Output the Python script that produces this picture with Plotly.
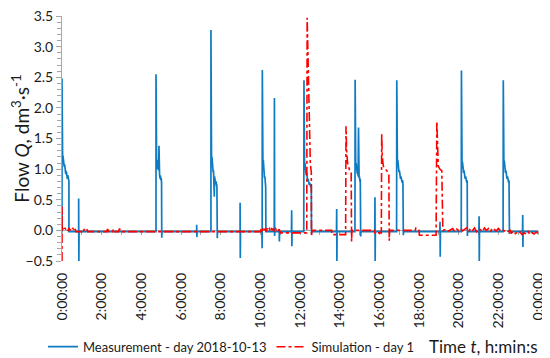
import plotly.graph_objects as go

# ---------------- data (time in hours, flow in dm3/s) ----------------
meas_t = [
    0.00, 0.00, 0.01, 0.03, 0.05, 0.07, 0.09, 0.11, 0.13, 0.15, 0.17, 0.19, 0.21, 0.23, 0.25, 0.27, 0.29, 0.31, 0.33, 0.35, 0.35,
    0.84, 0.84, 0.85, 0.86,
    4.74, 4.74, 4.75, 4.77, 4.79, 4.81, 4.83, 4.85, 4.87, 4.89, 4.90, 4.92, 4.94, 4.96, 4.98, 5.00, 5.02, 5.03, 5.04,
    6.79, 6.79, 6.80, 6.81,
    7.51, 7.51, 7.52, 7.54, 7.56, 7.58, 7.60, 7.62, 7.64, 7.66, 7.68, 7.69, 7.71, 7.73, 7.75, 7.77, 7.79, 7.81, 7.83, 7.84,
    8.98, 8.98, 8.99, 9.00,
    10.08, 10.09, 10.10, 10.11, 10.13, 10.15, 10.17, 10.19, 10.21, 10.23, 10.25, 10.27, 10.28,
    10.70, 10.71, 10.72, 10.73,
    10.95, 10.96, 10.97,
    11.57, 11.58, 11.59, 11.60,
    12.19, 12.20, 12.21, 12.23, 12.25, 12.27, 12.29, 12.31, 12.33, 12.35, 12.37, 12.39, 12.41, 12.43, 12.45, 12.47, 12.49, 12.51, 12.53, 12.55, 12.57, 12.58, 12.60,
    13.84, 13.85, 13.86, 13.87,
    14.77, 14.78, 14.79, 14.81, 14.83, 14.85, 14.87, 14.89, 14.91, 14.93, 14.95, 14.96, 14.98, 15.00, 15.02, 15.04, 15.06, 15.07,
    15.77, 15.78, 15.79, 15.80,
    16.87, 16.88, 16.89, 16.91, 16.93, 16.95, 16.97, 16.99, 17.01, 17.03, 17.05, 17.07, 17.09, 17.11, 17.13, 17.15, 17.17, 17.19, 17.21, 17.22,
    19.05, 19.06, 19.07, 19.08,
    20.13, 20.14, 20.15, 20.17, 20.19, 20.21, 20.23, 20.25, 20.27, 20.29, 20.31, 20.33, 20.35, 20.37, 20.39, 20.41, 20.43, 20.44, 20.45,
    21.02, 21.03, 21.04, 21.05,
    22.24, 22.25, 22.26, 22.28, 22.30, 22.32, 22.34, 22.36, 22.38, 22.40, 22.42, 22.44, 22.46, 22.48, 22.50, 22.52, 22.54, 22.56, 22.57,
    23.22, 23.23, 23.24, 23.25,
    24.00,
]
meas_q = [
    -0.02, 2.48, 1.30, 1.18, 1.22, 1.12, 1.16, 1.04, 1.08, 0.98, 1.02, 0.92, 0.97, 0.88, 0.93, 0.84, 0.90, 0.82, 0.86, 0.80, -0.02,
    -0.02, 0.52, -0.50, -0.02,
    -0.02, 2.55, 1.20, 1.10, 1.15, 1.05, 1.00, 1.05, 0.98, 1.38, 0.95, 0.90, 0.85, 0.90, 0.82, 0.86, 0.78, -0.12, -0.02,
    -0.02, 0.09, -0.11, -0.02,
    -0.02, 3.27, 1.30, 1.15, 1.20, 1.05, 1.08, 0.95, 0.98, 0.85, 0.55, 0.88, 0.80, 0.84, 0.76, 0.80, 0.72, 0.75, -0.13, -0.02,
    -0.02, 0.45, -0.45, -0.02,
    -0.02, -0.29, 2.62, 1.25, 1.10, 1.15, 1.00, 0.98, 0.85, 0.88, 0.75, 0.70, -0.02,
    -0.02, 2.16, -0.09, -0.02,
    -0.02, -0.18, -0.02,
    -0.02, 0.33, -0.26, -0.02,
    -0.02, 2.45, 1.20, 1.05, 1.10, 0.98, 1.02, 0.90, 0.95, 0.85, 0.90, 0.80, 0.84, 0.76, 0.80, 0.74, 0.78, 0.72, 0.76, 0.70, 0.74, -0.05, -0.02,
    -0.02, 0.35, -0.50, -0.02,
    -0.02, 2.46, 1.15, 1.05, 1.10, 0.98, 1.02, 0.92, 0.96, 0.88, 1.68, 0.90, 0.85, 0.88, 0.80, 0.84, -0.10, -0.02,
    -0.02, 0.54, -0.50, -0.02,
    -0.02, 2.45, 1.22, 1.10, 1.15, 1.02, 1.06, 0.95, 0.98, 0.88, 0.92, 0.84, 0.88, 0.80, 0.84, 0.78, 0.82, 0.76, -0.08, -0.02,
    -0.02, 0.14, -0.43, -0.02,
    -0.02, 2.61, 1.20, 1.08, 1.12, 1.00, 1.04, 0.94, 0.98, 0.88, 0.92, 0.84, 0.88, 0.80, 0.84, 0.78, 0.82, -0.09, -0.02,
    -0.02, 0.23, -0.50, -0.02,
    -0.02, 2.45, 1.18, 1.08, 1.14, 1.00, 1.04, 0.94, 0.98, 0.88, 0.92, 0.84, 0.88, 0.80, 0.84, 0.78, 0.82, -0.06, -0.02,
    -0.02, 0.25, -0.27, -0.02,
    -0.02,
]

sim_t = [
    0.00, 0.00, 0.01, 0.05, 0.10, 0.15, 0.20, 0.25, 0.30, 0.35, 0.40, 0.45, 0.50, 0.55, 0.60, 0.65, 0.70,
    1.00, 1.05, 1.10, 1.15, 1.20, 1.25, 1.30,
    2.25, 2.30, 2.35, 2.55, 2.60, 2.65, 2.85, 2.90, 2.95,
    10.00, 10.05, 10.10, 10.15, 10.20, 10.25, 10.30, 10.35, 10.40, 10.45, 10.50, 10.55, 10.60, 10.65, 10.70, 10.75, 10.80, 10.85, 10.90, 10.95, 11.00,
    11.02, 12.34,
    12.36, 12.40, 12.43, 12.46, 12.49, 12.52, 12.55, 12.57, 12.58, 12.60,
    13.60, 13.62, 14.30,
    14.32, 14.35, 14.40, 14.45, 14.50, 14.58, 14.60, 14.62,
    15.75, 15.77, 16.10,
    16.12, 16.15, 16.20, 16.30, 16.40, 16.48, 16.50, 16.52,
    17.80, 17.85, 17.95, 18.00, 18.02, 18.86,
    18.90, 18.93, 18.97, 19.05, 19.15, 19.20, 19.22,
    19.40, 19.50, 19.60, 19.70, 19.80, 19.90, 20.00, 20.10, 20.20, 20.30, 20.40, 20.50, 20.60, 20.70, 20.80,
    20.90, 21.00, 21.10, 21.20, 21.30, 21.40, 21.50, 21.60, 21.70, 21.80, 21.90, 22.00, 22.10, 22.20, 22.30,
    22.40, 22.50, 22.60, 22.65, 22.70, 22.80, 22.90, 23.00, 23.10, 23.20, 23.30, 23.40, 23.50, 23.60, 23.70,
    23.80, 23.90, 24.00,
]
sim_q = [
    -0.50, 0.39, 0.00, 0.03, 0.00, 0.04, 0.01, 0.03, -0.01, 0.04, 0.00, 0.03, 0.01, 0.04, 0.00, 0.03, -0.02,
    -0.02, 0.02, 0.00, 0.03, 0.01, 0.02, -0.02,
    -0.02, 0.02, -0.02, -0.02, 0.02, -0.02, -0.02, 0.03, -0.02,
    -0.02, 0.03, -0.01, 0.04, 0.00, 0.03, -0.02, 0.04, 0.01, 0.03, -0.01, 0.04, 0.00, 0.03, -0.02, 0.04, 0.01, 0.03, -0.01, 0.02, -0.03,
    -0.04, -0.04,
    3.47, 2.90, 2.30, 1.80, 1.35, 1.10, 1.00, 0.95, -0.10, 0.00,
    0.00, -0.07, -0.07,
    1.70, 1.30, 1.10, 1.03, 0.98, 0.95, -0.18, 0.00,
    0.00, -0.04, -0.04,
    1.57, 1.20, 1.05, 1.00, 0.97, 0.93, -0.17, 0.00,
    0.00, 0.04, 0.02, 0.00, -0.08, -0.08,
    1.78, 1.30, 1.05, 1.00, 0.97, 0.03, 0.00,
    0.02, -0.01, 0.01, 0.03, -0.02, 0.02, 0.00, 0.03, -0.01, 0.02, 0.04, -0.02, 0.03, 0.00, 0.04,
    -0.02, 0.03, 0.01, -0.02, 0.04, 0.00, 0.03, -0.02, 0.04, 0.01, -0.01, 0.03, 0.00, 0.02, -0.01,
    0.01, -0.02, 0.00, -0.05, -0.03, -0.07, -0.04, -0.06, -0.03, -0.07, -0.04, -0.06, -0.02, -0.07, -0.04,
    -0.06, -0.03, -0.05,
]

tick_hours = [0, 2, 4, 6, 8, 10, 12, 14, 16, 18, 20, 22, 24]
tick_labels = ["0:00:00", "2:00:00", "4:00:00", "6:00:00", "8:00:00", "10:00:00", "12:00:00",
               "14:00:00", "16:00:00", "18:00:00", "20:00:00", "22:00:00", "0:00:00"]

series_names = ["Measurement - day 2018-10-13", "Simulation - day 1"]

# ---------------- figure ----------------
FONT = "Lato, Carlito, Calibri, 'Open Sans', sans-serif"

fig = go.Figure()
fig.add_trace(go.Scatter(x=[], y=[], xaxis="x2", showlegend=False, hoverinfo="skip"))
fig.add_trace(go.Scatter(x=meas_t, y=meas_q, mode="lines", name=series_names[0],
                         line=dict(color="#0F7BC2", width=1.7)))
fig.add_trace(go.Scatter(x=sim_t, y=sim_q, mode="lines", name=series_names[1],
                         line=dict(color="#FF0000", width=1.6, dash="dashdot")))

# (the page body adds an 8px offset, so the left margin is set 8px smaller)
fig.update_layout(
    width=550, height=358,
    margin=dict(l=54, r=20, t=8, b=105, autoexpand=False),
    plot_bgcolor="white", paper_bgcolor="white",
    font=dict(family=FONT, size=14, color="#1a1a1a"),
    showlegend=True,
    legend=dict(orientation="h", x=-0.04, xanchor="left", y=-0.35, yanchor="middle",
                font=dict(size=13), itemwidth=30, bgcolor="rgba(0,0,0,0)", tracegroupgap=0),
    xaxis=dict(range=[0, 24], tickvals=tick_hours, ticktext=tick_labels, tickangle=-90,
               showline=False, ticks="", showgrid=False, zeroline=False, automargin=False,
               ticklabelstandoff=8, ticklabeloverflow="allow", tickfont=dict(size=14)),
    xaxis2=dict(range=[0, 24], overlaying="x", anchor="free", position=0.125, side="bottom",
                tick0=0, dtick=1, ticks="outside", ticklen=4, tickcolor="#A6A6A6",
                showline=True, linecolor="#A6A6A6", linewidth=1, showticklabels=False,
                showgrid=False, zeroline=False, layer="below traces", automargin=False),
    yaxis=dict(range=[-0.5, 3.5], dtick=0.5, tick0=0, tickformat=".1f", ticks="outside",
               ticklen=5, tickcolor="#A6A6A6", showline=True, linecolor="#A6A6A6",
               showgrid=False, zeroline=False, automargin=False, ticklabeloverflow="allow",
               minor=dict(dtick=0.1, ticks="outside", ticklen=4, tickcolor="#A6A6A6"),
               title=dict(text="Flow <i>Q</i>, dm<sup>3</sup>·s<sup>-1</sup>",
                          font=dict(size=19), standoff=6),
               tickfont=dict(size=14)),
    annotations=[dict(text="Time <i>t</i>, h:min:s", xref="paper", yref="paper",
                      x=1.004, y=-0.35, xanchor="right", yanchor="middle",
                      showarrow=False, font=dict(size=17))],
)

fig.write_html("out.html")
